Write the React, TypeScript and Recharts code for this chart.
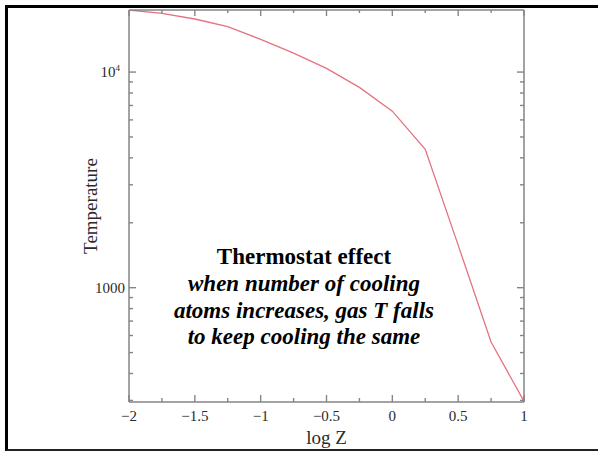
import { LineChart, Line, XAxis, YAxis, Label } from "recharts"

// log Z (metallicity) vs equilibrium temperature
const logZ = [-2, -1.75, -1.5, -1.25, -1, -0.75, -0.5, -0.25, 0, 0.25, 0.5, 0.75, 1]
const temperature = [19400, 18730, 17620, 16230, 14180, 12250, 10400, 8490, 6590, 4380, 1575, 560, 297]

const xTicks = [-2, -1.75, -1.5, -1.25, -1, -0.75, -0.5, -0.25, 0, 0.25, 0.5, 0.75, 1]
const xLabelTicks = [-2, -1.5, -1, -0.5, 0, 0.5, 1]
const yTicks = [300, 400, 500, 600, 700, 800, 900, 1000, 2000, 3000, 4000, 5000, 6000, 7000, 8000, 9000, 10000]
const yLabelTicks = [1000, 10000]
const yDomain = [295, 19400]

const noteTitle = "Thermostat effect"
const noteLines = ["when number of cooling", "atoms increases, gas T falls", "to keep cooling the same"]

const data = logZ.map((z, i) => ({ z, t: temperature[i] }))

const W = 598
const H = 451
const MARGIN = { top: 9, right: 73, bottom: 0, left: 0 }
const LEFT_W = 129
const RIGHT_W = 1
const TOP_H = 1
const BOTTOM_H = 49
// plot box size, so the top/right tick renderers can also mark the opposite side
const PLOT_W = W - MARGIN.left - MARGIN.right - LEFT_W - RIGHT_W
const PLOT_H = H - MARGIN.top - MARGIN.bottom - TOP_H - BOTTOM_H

const AXIS = "#858585"
const TEXT = "#2a2a2a"
const FONT = '"Liberation Serif", "Times New Roman", serif'
const MAJOR = 7
const MINOR = 4

const fmtX = (v: number) => (v < 0 ? "\u2212" + Math.abs(v) : String(v))

const BottomLabel = (props: any) => {
  const { x, y, payload } = props
  if (!xLabelTicks.includes(payload.value)) return null
  return (
    <text x={x} y={y + 19} textAnchor="middle" fontSize={15} fontFamily={FONT} fill={TEXT}>
      {fmtX(payload.value)}
    </text>
  )
}

const LeftLabel = (props: any) => {
  const { x, y, payload } = props
  const v = payload.value
  if (v === 1000)
    return (
      <text x={x - 4} y={y} dy="0.35em" textAnchor="end" fontSize={15} fontFamily={FONT} fill={TEXT}>
        1000
      </text>
    )
  if (v === 10000)
    return (
      <text x={x - 9} y={y} dy="0.35em" textAnchor="end" fontSize={15} fontFamily={FONT} fill={TEXT}>
        10<tspan fontSize={9} dy={-6}>4</tspan>
      </text>
    )
  return null
}

// inward ticks on the top edge and, mirrored, on the bottom edge
const TopTick = (props: any) => {
  const { x, y, payload } = props
  const len = xLabelTicks.includes(payload.value) ? MAJOR : MINOR
  const yb = y + PLOT_H
  return (
    <g>
      <line x1={x} x2={x} y1={y} y2={y + len - 1} stroke={AXIS} strokeWidth={1.4} />
      <line x1={x} x2={x} y1={yb} y2={yb - len} stroke={AXIS} strokeWidth={1.4} />
    </g>
  )
}

// inward ticks on the right edge and, mirrored, on the left edge
const RightTick = (props: any) => {
  const { x, y, payload } = props
  const len = yLabelTicks.includes(payload.value) ? MAJOR : MINOR
  const xl = x - PLOT_W
  return (
    <g>
      <line x1={x} x2={x - len} y1={y} y2={y} stroke={AXIS} strokeWidth={1.4} />
      <line x1={xl} x2={xl + len} y1={y} y2={y} stroke={AXIS} strokeWidth={1.4} />
    </g>
  )
}

export default function App() {
  return (
    <div style={{ position: "fixed", left: 0, top: 0, width: W, height: H, background: "#fff" }}>
      <div
        style={{
          position: "absolute",
          left: 5,
          top: 5,
          width: 593,
          height: 446,
          boxSizing: "border-box",
          borderLeft: "3px solid #000",
          borderTop: "3px solid #000",
          borderBottom: "2px solid #222",
        }}
      />
      <div style={{ position: "absolute", left: 0, top: 0 }}>
        <LineChart width={W} height={H} data={data} margin={MARGIN}>
          <XAxis
            xAxisId="b"
            dataKey="z"
            type="number"
            domain={[-2, 1]}
            ticks={xTicks}
            interval={0}
            orientation="bottom"
            height={BOTTOM_H}
            tickSize={0}
            tickMargin={0}
            tickLine={false}
            axisLine={{ stroke: AXIS, strokeWidth: 1.5 }}
            tick={<BottomLabel />}
          >
            <Label
              content={({ viewBox }: any) => (
                <text
                  x={viewBox.x + viewBox.width / 2}
                  y={viewBox.y + 42}
                  textAnchor="middle"
                  fontSize={19}
                  fontFamily={FONT}
                  fill={TEXT}
                >
                  log Z
                </text>
              )}
            />
          </XAxis>
          <XAxis
            xAxisId="t"
            dataKey="z"
            type="number"
            domain={[-2, 1]}
            ticks={xTicks}
            interval={0}
            orientation="top"
            height={TOP_H}
            tickSize={0}
            tickMargin={0}
            tickLine={false}
            axisLine={{ stroke: AXIS, strokeWidth: 1.5 }}
            tick={<TopTick />}
          />
          <YAxis
            yAxisId="l"
            type="number"
            scale="log"
            domain={yDomain}
            allowDataOverflow
            ticks={yTicks}
            interval={0}
            width={LEFT_W}
            tickSize={0}
            tickMargin={0}
            tickLine={false}
            axisLine={{ stroke: AXIS, strokeWidth: 1.5 }}
            tick={<LeftLabel />}
          >
            <Label
              content={({ viewBox }: any) => {
                const x = viewBox.x + viewBox.width - 32
                const y = viewBox.y + viewBox.height / 2
                return (
                  <text
                    x={x}
                    y={y}
                    transform={`rotate(-90, ${x}, ${y})`}
                    textAnchor="middle"
                    fontSize={19}
                    fontFamily={FONT}
                    fill={TEXT}
                  >
                    Temperature
                  </text>
                )
              }}
            />
          </YAxis>
          <YAxis
            yAxisId="r"
            orientation="right"
            type="number"
            scale="log"
            domain={yDomain}
            allowDataOverflow
            ticks={yTicks}
            interval={0}
            width={RIGHT_W}
            tickSize={0}
            tickMargin={0}
            tickLine={false}
            axisLine={{ stroke: AXIS, strokeWidth: 1.5 }}
            tick={<RightTick />}
          />
          {/* invisible copy so the mirrored top/right axes have a series */}
          <Line
            xAxisId="t"
            yAxisId="r"
            type="linear"
            dataKey="t"
            stroke="none"
            dot={false}
            activeDot={false}
            legendType="none"
            isAnimationActive={false}
          />
          <Line
            xAxisId="b"
            yAxisId="l"
            type="linear"
            dataKey="t"
            stroke="#e5737f"
            strokeWidth={1.3}
            dot={false}
            isAnimationActive={false}
          />
        </LineChart>
      </div>
      <svg width={W} height={H} style={{ position: "absolute", left: 0, top: 0, pointerEvents: "none" }}>
        <text x={304} y={264} textAnchor="middle" fontSize={23} fontWeight="bold" fontFamily={FONT} fill="#000">
          {noteTitle}
        </text>
        {noteLines.map((line, i) => (
          <text
            key={line}
            x={304}
            y={291 + i * 26.5}
            textAnchor="middle"
            fontSize={23}
            fontWeight="bold"
            fontStyle="italic"
            fontFamily={FONT}
            fill="#000"
          >
            {line}
          </text>
        ))}
      </svg>
    </div>
  )
}
